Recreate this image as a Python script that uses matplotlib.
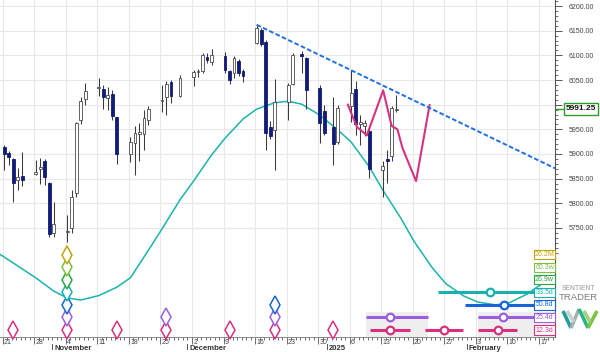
import matplotlib
matplotlib.use('Agg')
import matplotlib.pyplot as plt
import matplotlib.dates as mdates
import matplotlib.transforms as mtransforms
from matplotlib.patches import Rectangle
from matplotlib.lines import Line2D
import pandas as pd
import numpy as np

plt.rcParams['font.family'] = ['Liberation Sans', 'DejaVu Sans']

# ---------------- data ----------------
dates = ['2024-10-21', '2024-10-22', '2024-10-23', '2024-10-24', '2024-10-25',
         '2024-10-28', '2024-10-29', '2024-10-30', '2024-10-31', '2024-11-01',
         '2024-11-04', '2024-11-05', '2024-11-06', '2024-11-07', '2024-11-08',
         '2024-11-11', '2024-11-12', '2024-11-13', '2024-11-14', '2024-11-15',
         '2024-11-18', '2024-11-19', '2024-11-20', '2024-11-21', '2024-11-22',
         '2024-11-25', '2024-11-26', '2024-11-27', '2024-11-29',
         '2024-12-02', '2024-12-03', '2024-12-04', '2024-12-05', '2024-12-06',
         '2024-12-09', '2024-12-10', '2024-12-11', '2024-12-12', '2024-12-13',
         '2024-12-16', '2024-12-17', '2024-12-18', '2024-12-19', '2024-12-20',
         '2024-12-23', '2024-12-24', '2024-12-26', '2024-12-27',
         '2024-12-30', '2024-12-31', '2025-01-02', '2025-01-03',
         '2025-01-06', '2025-01-07', '2025-01-08', '2025-01-09', '2025-01-10',
         '2025-01-13', '2025-01-14', '2025-01-15', '2025-01-16']
opens = [5915, 5903, 5890, 5847, 5855,
         5860, 5870, 5886, 5842, 5740,
         5742, 5750, 5820, 5969, 6011,
         6033, 6032, 6013, 6022, 5974,
         5901, 5922, 5940, 5940, 5969,
         6008, 6016, 6045, 6018,
         6056, 6066, 6069, 6096, 6087,
         6099, 6069, 6065, 6089, 6068,
         6126, 6151, 6128, 5954, 5949,
         6006, 6042, 6102, 6094,
         6033, 5988, 5954, 5925,
         5997, 6031, 5960, 5957, 5947,
         5868, 5890, 5895, 5989]
highs = [5918, 5906, 5891, 5871, 5904,
         5887, 5892, 5890, 5844, 5803,
         5776, 5826, 5965, 6015, 6044,
         6055, 6040, 6035, 6030, 5976,
         5935, 5957, 5962, 5989, 5997,
         6040, 6047, 6050, 6060,
         6070, 6072, 6105, 6104, 6112,
         6107, 6070, 6099, 6092, 6072,
         6162, 6155, 6131, 5966, 6053,
         6043, 6104, 6109, 6097,
         6040, 5999, 6016, 5999,
         6070, 6047, 5979, 5969, 5955,
         5886, 5908, 5997, 6020]
lows = [5868, 5878, 5802, 5827, 5835,
        5858, 5840, 5837, 5732, 5732,
        5722, 5740, 5813, 5961, 5999,
        6018, 5991, 5989, 5969, 5880,
        5884, 5857, 5885, 5908, 5959,
        5986, 5979, 6003, 6016,
        6038, 6057, 6065, 6085, 6080,
        6065, 6042, 6055, 6058, 6045,
        6123, 6118, 5908, 5930, 5868,
        5969, 6040, 6065, 5991,
        5922, 5938, 5878, 5920,
        5965, 5938, 5918, 5936, 5851,
        5812, 5842, 5886, 5986]
closes = [5900, 5894, 5841, 5853, 5848,
          5864, 5874, 5854, 5738, 5759,
          5743, 5813, 5962, 6007, 6028,
          6035, 6015, 6020, 5977, 5900,
          5925, 5942, 5944, 5973, 5991,
          6010, 6042, 6018, 6055,
          6066, 6067, 6101, 6090, 6101,
          6070, 6050, 6094, 6064, 6059,
          6155, 6123, 5942, 5936, 6006,
          6040, 6101, 6099, 6030,
          5962, 5942, 5920, 5993,
          6023, 5961, 5965, 5962, 5869,
          5876, 5885, 5993, 5991.25]
last_price = 5991.25

# composite cycle curve (teal)
cycle_curve_dates = ['2024-10-20', '2024-10-28', '2024-11-01', '2024-11-04', '2024-11-07',
                     '2024-11-11', '2024-11-15', '2024-11-18', '2024-11-22', '2024-11-25',
                     '2024-11-29', '2024-12-02', '2024-12-06', '2024-12-09', '2024-12-13',
                     '2024-12-16', '2024-12-20', '2024-12-23', '2024-12-26', '2024-12-30',
                     '2025-01-03', '2025-01-06', '2025-01-10', '2025-01-13', '2025-01-17',
                     '2025-01-20', '2025-01-24', '2025-01-27', '2025-01-31', '2025-02-03',
                     '2025-02-07', '2025-02-10', '2025-02-14', '2025-02-17', '2025-02-20',
                     '2025-02-21']
cycle_curve_values = [5697, 5649, 5622, 5608, 5604,
                      5613, 5630, 5649, 5705, 5748,
                      5807, 5845, 5898, 5932, 5971,
                      5991, 6004, 6007, 6001, 5979,
                      5949, 5924, 5874, 5827, 5770,
                      5722, 5669, 5637, 5612, 5600,
                      5594, 5598, 5616, 5635, 5651,
                      5656]

# projection line (magenta)
proj_dates = ['2025-01-05 14:00', '2025-01-07 14:00', '2025-01-09 19:00', '2025-01-13 10:00',
              '2025-01-15 07:00', '2025-01-16 14:00', '2025-01-17 17:00', '2025-01-20 17:00',
              '2025-01-23 17:00']
proj_values = [6000, 5955, 5938, 6029, 5957, 5950, 5912, 5845, 5999]

# trend line (blue dashed)
trend_dates = ['2024-12-16 08:00', '2025-02-20 13:00']
trend_values = [6162, 5871]

# cycles
cycle_names = ['12.3d', '25.4d', '50.8d', '33.5d', '26.9w', '60.3w', '26.2M']
cycle_colors = ['#d9307e', '#9a5fe0', '#1565d8', '#19b0b0', '#27a844', '#7cc040', '#c4a20a']
cycle_lows = {
    '12.3d': ['2024-10-23', '2024-11-04', '2024-11-15', '2024-11-26', '2024-12-10',
              '2024-12-20', '2025-01-02'],
    '25.4d': ['2024-11-04', '2024-11-26', '2024-12-20'],
    '50.8d': ['2024-11-04', '2024-12-20'],
    '33.5d': ['2024-11-04'],
    '26.9w': ['2024-11-04'],
    '60.3w': ['2024-11-04'],
    '26.2M': ['2024-11-04'],
}
# projected windows: (start, expected low, end); None = open to the right
cycle_windows = {
    '12.3d': [('2025-01-10 12:00', '2025-01-14 22:00', '2025-01-19 10:00'),
              ('2025-01-22 17:00', '2025-01-26 23:00', '2025-01-31 02:00'),
              ('2025-02-03 12:00', '2025-02-07 19:00', '2025-02-12 02:00')],
    '25.4d': [('2025-01-09 14:00', '2025-01-14 22:00', '2025-01-23 10:00'),
              ('2025-02-03 12:00', '2025-02-08 22:00', None)],
    '50.8d': [('2025-01-31 14:00', '2025-02-09 07:00', None)],
    '33.5d': [('2025-01-25 12:00', '2025-02-06 02:00', None)],
}
shade_windows = [('2025-01-09 14:00', '2025-01-23 10:00'), ('2025-02-03 12:00', None)]

x_start, x_end = '2024-10-20 09:36', '2025-02-20 13:00'
y_min, y_max = 5529, 6212.2

# ---------------- figure ----------------
W, H = 600, 352
fig = plt.figure(figsize=(W / 100, H / 100), dpi=100)
fig.patch.set_facecolor('white')
ax_bottom_px = 15
ax_h_px = 337
ax_w_px = 555
ax = fig.add_axes([0.0, ax_bottom_px / H, ax_w_px / W, ax_h_px / H])

def dn(s):
    return mdates.date2num(pd.to_datetime(s))

xlo, xhi = dn(x_start), dn(x_end)
ax.set_xlim(xlo, xhi)
ax.set_ylim(y_min, y_max)

candle_shift = 1 / 3.0
bx = dn(dates) + candle_shift
o = np.array(opens, float); h = np.array(highs, float)
l = np.array(lows, float); c = np.array(closes, float)
up = c >= o
bottoms = np.minimum(o, c)
heights = np.maximum(np.abs(c - o), 1.5)

ax.vlines(bx, l, h, color='#3a3a3a', lw=0.75, zorder=3)
ax.bar(bx[up], heights[up], width=0.62, bottom=bottoms[up], facecolor='white',
       edgecolor='#4a4a4a', linewidth=0.6, zorder=4)
ax.bar(bx[~up], heights[~up], width=0.62, bottom=bottoms[~up], facecolor='#101c78',
       edgecolor='#101c78', linewidth=0.6, zorder=4)

# cycle curve
ax.plot(dn(cycle_curve_dates) + candle_shift, cycle_curve_values, color='#1bb3ad', lw=1.1, zorder=2)
# projection
ax.plot(dn(proj_dates), proj_values, color='#d6337f', lw=1.5, zorder=5)
# trend line
ax.plot(dn(trend_dates), trend_values, color='#1f6fe5', lw=1.4, dashes=(2.4, 1.2), zorder=5)

# grid / ticks
ax.xaxis.set_major_locator(mdates.WeekdayLocator(byweekday=mdates.MO))
ax.xaxis.set_minor_locator(mdates.DayLocator())
ax.xaxis.set_major_formatter(matplotlib.ticker.NullFormatter())
ax.set_yticks(np.arange(5750, 6201, 50))
ax.yaxis.set_minor_locator(matplotlib.ticker.FixedLocator(np.arange(5700, 6211, 10)))
ax.grid(True, which='major', color='#e8e8e8', lw=0.8, zorder=0)
ax.set_axisbelow(True)

ax.yaxis.tick_right()
def price_fmt(v, pos):
    # the current-price box hides the label it covers
    return '' if abs(v - last_price) < 12 else f'{v:.2f}'
ax.yaxis.set_major_formatter(matplotlib.ticker.FuncFormatter(price_fmt))
ax.tick_params(axis='y', which='major', length=5, width=0.7, colors='#555', labelsize=5,
               pad=5, labelcolor='#444')
ax.tick_params(axis='y', which='minor', length=2.4, width=0.6, colors='#555')
ax.tick_params(axis='x', which='major', length=5, width=0.6, colors='#555')
ax.tick_params(axis='x', which='minor', length=2.4, width=0.6, colors='#555')
for sp in ['left', 'top']:
    ax.spines[sp].set_visible(False)
ax.spines['right'].set_color('#555')
ax.spines['right'].set_linewidth(0.8)
ax.spines['bottom'].set_color('#888')
ax.spines['bottom'].set_linewidth(0.7)

# x labels: Monday day numbers
blend = mtransforms.blended_transform_factory(ax.transData, ax.transAxes)
day_tr = mtransforms.offset_copy(blend, fig=fig, x=1.2, y=-1.5, units='dots')
mondays = pd.date_range(pd.to_datetime(x_start).normalize(), pd.to_datetime(x_end), freq='W-MON')
for d in mondays:
    ax.text(dn(d), 0, str(d.day), transform=day_tr, ha='left', va='top', fontsize=5,
            color='#444')
months = pd.date_range('2024-11-01', pd.to_datetime(x_end), freq='MS')
mon_tr = mtransforms.offset_copy(blend, fig=fig, x=2.0, y=-7.5, units='dots')
for m in months:
    lab = str(m.year) if m.month == 1 else m.strftime('%B')
    ax.text(dn(m), 0, lab, transform=mon_tr, ha='left', va='top', fontsize=5.5,
            color='#333', fontweight='bold')
    ax.plot([dn(m), dn(m)], [-7 / ax_h_px, -12 / ax_h_px], transform=blend, color='#555',
            lw=0.7, clip_on=False)

# bottom cycle rows
def row_y(i):
    return (7 + 12.55 * i) / ax_h_px

for s, e in shade_windows:
    e_num = xhi if e is None else dn(e)
    ax.add_patch(Rectangle((dn(s), 0.0), e_num - dn(s), 25 / ax_h_px, transform=blend,
                           facecolor='#eeeeee', edgecolor='none', zorder=1))

for i, name in enumerate(cycle_names):
    col = cycle_colors[i]
    yy = row_y(i)
    xs = dn(cycle_lows[name]) + candle_shift
    ax.plot(xs, [yy] * len(xs), transform=blend, ls='none', marker='d', ms=9,
            mfc='white', mec=col, mew=1.1, clip_on=False, zorder=7)
    for (s, m, e) in cycle_windows.get(name, []):
        e_num = xhi if e is None else dn(e)
        ax.plot([dn(s), e_num], [yy, yy], transform=blend, color=col, lw=2.2,
                solid_capstyle='butt', zorder=6)
        ax.plot([dn(m)], [yy], transform=blend, marker='o', ms=5.5, mfc='white', mec=col,
                mew=1.6, zorder=7)
    # legend box
    bx0 = 534 / ax_w_px
    ax.add_patch(Rectangle((bx0, yy - 4.6 / ax_h_px), 1.0 - bx0, 9.2 / ax_h_px,
                           transform=ax.transAxes, facecolor='white', edgecolor=col,
                           lw=0.8, zorder=9, clip_on=False))
    ax.text((bx0 + 1.0) / 2, yy, name, transform=ax.transAxes, ha='center', va='center',
            fontsize=5, color=col, zorder=10)

# last price marker
yblend = mtransforms.blended_transform_factory(ax.transAxes, ax.transData)
ax.plot([1.0, 1.0 + 9 / ax_w_px], [last_price, last_price], transform=yblend,
        color='#2e9a2e', lw=1.0, clip_on=False, zorder=10)
ax.text(1.0 + 11 / ax_w_px, last_price, f'{last_price:.2f}', transform=yblend, ha='left',
        va='center', fontsize=6, fontweight='bold', color='#111', zorder=11,
        bbox=dict(boxstyle='square,pad=0.25', facecolor='white', edgecolor='#2e9a2e', lw=1.0))

# logo
fig.text(579 / W, 1 - 288 / H, 'SENTIENT', ha='center', va='center', fontsize=4.9,
         color='#b5b5b5', fontweight='bold')
fig.text(578.5 / W, 1 - 298 / H, 'TRADER', ha='center', va='center', fontsize=6.8,
         color='#7d7d7d')
def fp(x, y):
    return (x / W, 1 - y / H)
logo_segs = [((563, 311), (571, 328), '#1f9e9a'), ((571, 328), (579, 309), '#a8b0b0'),
             ((579, 309), (588, 328), '#2bb38f'), ((588, 328), (597, 311), '#7dc242'),
             ((567, 311), (574, 322), '#c9d0d0'), ((584, 311), (590, 322), '#9fd27a')]
for p0, p1, col in logo_segs:
    a, b = fp(*p0), fp(*p1)
    fig.add_artist(Line2D([a[0], b[0]], [a[1], b[1]], color=col, lw=2.6,
                          transform=fig.transFigure, solid_capstyle='butt'))

fig.savefig('out.png', dpi=100, facecolor='white')
